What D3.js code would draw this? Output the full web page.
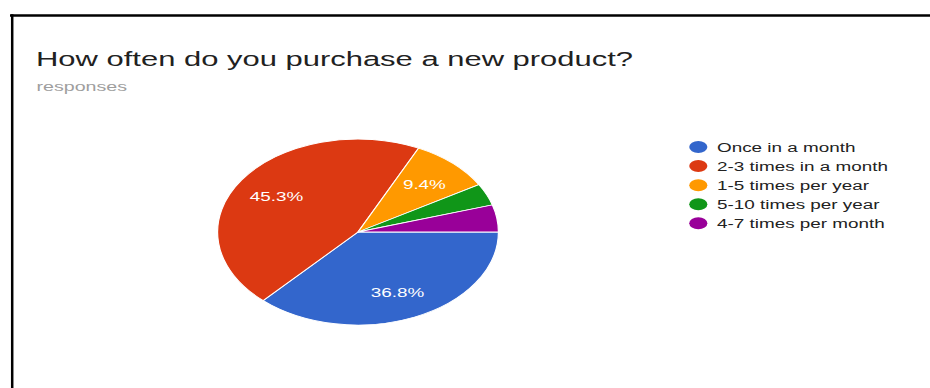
<!DOCTYPE html>
<html>
<head>
<meta charset="utf-8">
<script src="https://cdn.jsdelivr.net/npm/d3@7"></script>
<style>
  html, body { margin: 0; padding: 0; background: #fff; }
  svg { display: block; }
  text { font-family: Arial, "Liberation Sans", sans-serif; }
</style>
</head>
<body>
<svg id="chart" width="930" height="388"></svg>
<script>
// Survey answers and their share of responses (percent)
const categories = [
  "Once in a month",
  "2-3 times in a month",
  "1-5 times per year",
  "5-10 times per year",
  "4-7 times per month"
];
const shares = [36.8, 45.3, 9.4, 3.8, 4.7];
const colors = ["#3366cc", "#dc3912", "#ff9900", "#109618", "#990099"];
const title = "How often do you purchase a new product?";
const subtitle = "responses";

const W = 930, H = 388;
const SX = 1.51; // horizontal stretch of the whole card

const svg = d3.select("#chart");

// card frame (top and left edges)
svg.append("line").attr("x1", 10).attr("x2", W).attr("y1", 15.5).attr("y2", 15.5)
  .attr("stroke", "#000").attr("stroke-width", 2.5);
svg.append("line").attr("x1", 12.2).attr("x2", 12.2).attr("y1", 14.3).attr("y2", H)
  .attr("stroke", "#000").attr("stroke-width", 2.5);

const g = svg.append("g").attr("transform", `scale(${SX},1)`);
const X = v => v / SX;

g.append("text").attr("x", X(36)).attr("y", 66.5)
  .attr("font-size", 20.5).attr("fill", "#212121").text(title);
g.append("text").attr("x", X(36.5)).attr("y", 91.5)
  .attr("font-size", 13).attr("fill", "#9e9e9e").text(subtitle);

// pie
const cx = X(358), cy = 232, r = 93;
const data = categories.map((c, i) => ({ name: c, value: shares[i], color: colors[i] }));
const pie = d3.pie().value(d => d.value).sort(null)
  .startAngle(Math.PI / 2).endAngle(Math.PI / 2 + 2 * Math.PI);
const arcs = pie(data);
const arc = d3.arc().innerRadius(0).outerRadius(r);
const labelArc = d3.arc().innerRadius(r * 0.7).outerRadius(r * 0.7);

const pg = g.append("g").attr("transform", `translate(${cx},${cy})`);
pg.selectAll("path").data(arcs).join("path")
  .attr("d", arc)
  .attr("fill", d => d.data.color)
  .attr("stroke", "#fff").attr("stroke-width", 0.8);

pg.selectAll("text.lbl").data(arcs.filter(d => d.data.value >= 5)).join("text")
  .attr("class", "lbl")
  .attr("transform", d => `translate(${labelArc.centroid(d)})`)
  .attr("text-anchor", "middle").attr("dy", "0.4em")
  .attr("font-size", 12.5).attr("fill", "#fff")
  .text(d => d3.format(".1f")(d.data.value) + "%");

// legend
const y = d3.scalePoint().domain(categories).range([147, 223.3]);
const lg = g.append("g");
const rows = lg.selectAll("g").data(data).join("g")
  .attr("transform", d => `translate(${X(698.3)},${y(d.name)})`);
rows.append("circle").attr("r", 6).attr("fill", d => d.color);
rows.append("text").attr("x", X(717) - X(698.3)).attr("dy", "0.36em")
  .attr("font-size", 12.5).attr("fill", "#222").text(d => d.name);
</script>
</body>
</html>
